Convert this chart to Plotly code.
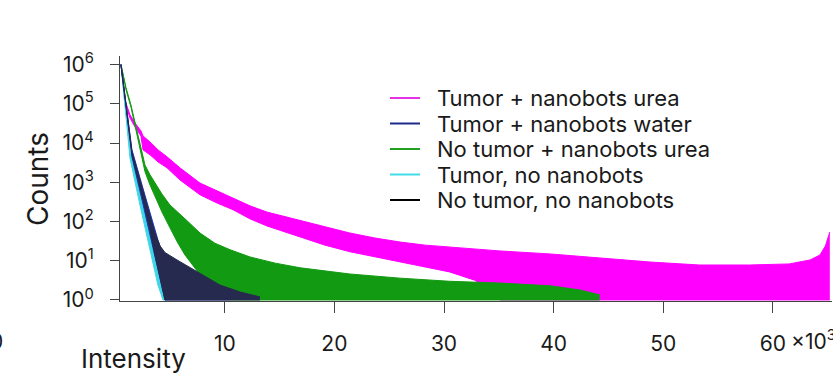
import plotly.graph_objects as go

# ---- data (intensity in thousands, counts) ----
mag_k  = [0.53, 0.71, 0.89, 1.35, 1.8, 2.35, 2.54, 3.18, 3.91, 4.73, 5.91, 7.74, 9.29, 10.75, 12.3, 13.85,
          15.5, 16.86, 19.14, 21.41, 23.7, 26.0, 28.3, 30.5, 32.8, 34.2, 35.1, 39.7, 44.2, 48.8, 53.3,
          57.9, 61.5, 63.4, 64.3, 64.8, 65.2]
mag_hi = [1000000, 303000, 126000, 52500, 33000, 20500, 15200, 10700, 6700, 4470, 2340, 955, 603, 398, 251, 174,
          132, 105, 72, 51, 38, 30, 25, 22.4, 20, 19, 17.8, 14.9, 11.8, 9.3, 7.8,
          7.8, 8.3, 10.5, 14, 24, 54]
mag_lo = [1000000, 272000, 112000, 43800, 25900, 15200, 6700, 5010, 3310, 2340, 1150, 479, 297, 200, 117, 77,
          54, 41, 25, 17, 12.5, 9.3, 6.9, 5.2, 3.2, 1.8, 1, 1, 1, 1, 1,
          1, 1, 1, 1, 1, 1]

grn_k  = [0.53, 0.99, 1.44, 1.9, 2.35, 2.72, 3.18, 3.63, 4.27, 5.0, 5.73, 6.37, 7.74, 9.1, 10.5, 12.3,
          14.6, 16.9, 21.4, 26.0, 30.5, 35.1, 39.7, 42.4, 44.2]
grn_hi = [1000000, 257000, 93300, 24500, 6700, 2750, 1550, 955, 501, 263, 166, 117, 51, 28, 19, 12.5,
          8.7, 6.6, 4.6, 3.6, 3.0, 2.7, 2.3, 1.8, 1.35]
grn_lo = [1000000, 229000, 83200, 20500, 5250, 1860, 851, 447, 174, 69, 28, 14, 4.4, 1.8, 1, 1,
          1, 1, 1, 1, 1, 1, 1, 1, 1]

cya_k  = [0.53, 0.89, 1.35, 2.26, 3.18, 3.9, 4.36, 4.73]
cya_hi = [1000000, 93300, 6760, 646, 81, 19, 7.8, 2.9]
cya_lo = [1000000, 79400, 4170, 263, 19, 2.4, 1, 1]

blu_k  = [0.53, 0.98, 1.53, 2.45, 3.18, 3.9, 4.54, 5.45, 6.82, 8.65, 10.5]
blu_hi = [1000000, 93300, 6760, 851, 166, 34, 10.5, 6.6, 4.4, 2.4, 1.5]
blu_lo = [1000000, 79400, 4470, 355, 46, 5.9, 1, 1, 1, 1, 1]

blk_k  = [0.53, 0.98, 1.53, 2.45, 3.18, 3.63, 4.09, 4.54, 5.64, 7.46, 9.56, 11.4, 13.2]
blk_hi = [1000000, 90000, 6000, 720, 135, 50, 24, 16.2, 10.5, 5.3, 2.4, 1.6, 1.2]
blk_lo = [1000000, 85000, 5000, 460, 62, 14, 4, 1, 1, 1, 1, 1, 1]

legend_names = ["Tumor + nanobots urea", "Tumor + nanobots water",
                "No tumor + nanobots urea", "Tumor, no nanobots",
                "No tumor, no nanobots"]
legend_colors = ["#e632e6", "#1c2a8c", "#22a022", "#40dce8", "#000000"]

x_tickvals = [10, 20, 30, 40, 50, 60]
x_ticktext = ["10", "20", "30", "40", "50", "60"]
y_tickvals = [1, 10, 100, 1000, 10000, 100000, 1000000]
y_ticktext = ["10<sup>%d</sup>" % i for i in range(7)]

FONT = "Inter"
TXT = "#1a1a1a"
L, T, PW, PH = 120, 56, 712, 245


def px(xp):
    return (xp - L) / PW


def py(yp):
    return (T + PH - yp) / PH


fig = go.Figure()


def band(xk, lo, hi, color):
    fig.add_trace(go.Scatter(x=xk, y=lo, mode="lines", line=dict(color=color, width=1),
                             showlegend=False, hoverinfo="skip"))
    fig.add_trace(go.Scatter(x=xk, y=hi, mode="lines", line=dict(color=color, width=1),
                             fill="tonexty", fillcolor=color, showlegend=False, hoverinfo="skip"))


band(mag_k, mag_lo, mag_hi, "#ff00ff")
band(grn_k, grn_lo, grn_hi, "#129a12")
band(cya_k, cya_lo, cya_hi, "#3fd6e6")
band(blu_k, blu_lo, blu_hi, "#1a36b8")
band(blk_k, blk_lo, blk_hi, "#262a4e")

# manual legend (line samples + labels)
shapes = []
annotations = []
row_y = [98, 123.5, 149, 174.5, 200]
for name, col, yy in zip(legend_names, legend_colors, row_y):
    shapes.append(dict(type="line", xref="paper", yref="paper",
                       x0=px(390), x1=px(420), y0=py(yy), y1=py(yy),
                       line=dict(color=col, width=2)))
    annotations.append(dict(text=name, xref="paper", yref="paper", x=px(435), y=py(yy),
                            xanchor="left", yanchor="middle", showarrow=False,
                            font=dict(size=22, family=FONT, color=TXT)))

annotations += [
    dict(text="Counts", xref="paper", yref="paper", x=px(38), y=py(179),
         textangle=-90, showarrow=False, xanchor="center", yanchor="middle",
         font=dict(size=28, family=FONT, color=TXT)),
    dict(text="Intensity", xref="paper", yref="paper", x=px(79), y=py(358),
         showarrow=False, xanchor="left", yanchor="middle",
         font=dict(size=26, family=FONT, color=TXT)),
    dict(text="×10<sup>3</sup>", xref="paper", yref="paper", x=px(789), y=py(340),
         showarrow=False, xanchor="left", yanchor="middle",
         font=dict(size=21, family=FONT, color=TXT)),
    dict(text="0", xref="paper", yref="paper", x=px(-4), y=py(341),
         showarrow=False, xanchor="center", yanchor="middle",
         font=dict(size=21, family=FONT, color=TXT)),
]

fig.update_layout(
    width=833, height=374,
    margin=dict(l=L, r=833 - L - PW, t=T, b=374 - T - PH),
    paper_bgcolor="white", plot_bgcolor="white",
    font=dict(family=FONT, color=TXT, size=21),
    showlegend=False,
    xaxis=dict(range=[0.44, 65.4], showgrid=False, zeroline=False, automargin=False,
               showline=True, linecolor="#444", linewidth=1,
               ticks="outside", ticklen=11, tickcolor="#444", ticklabelstandoff=13,
               tickvals=x_tickvals, ticktext=x_ticktext,
               tickfont=dict(size=21, family=FONT, color=TXT)),
    yaxis=dict(type="log", range=[-0.026, 6.22], showgrid=False, zeroline=False, automargin=False,
               showline=True, linecolor="#444", linewidth=1,
               ticks="outside", ticklen=9, tickcolor="#444", ticklabelstandoff=12,
               tickvals=y_tickvals, ticktext=y_ticktext,
               tickfont=dict(size=21, family=FONT, color=TXT)),
    shapes=shapes,
    annotations=annotations,
)

fig.write_html("out.html", config={"displayModeBar": False},
               post_script="document.body.style.margin='0';document.body.style.padding='0';")
